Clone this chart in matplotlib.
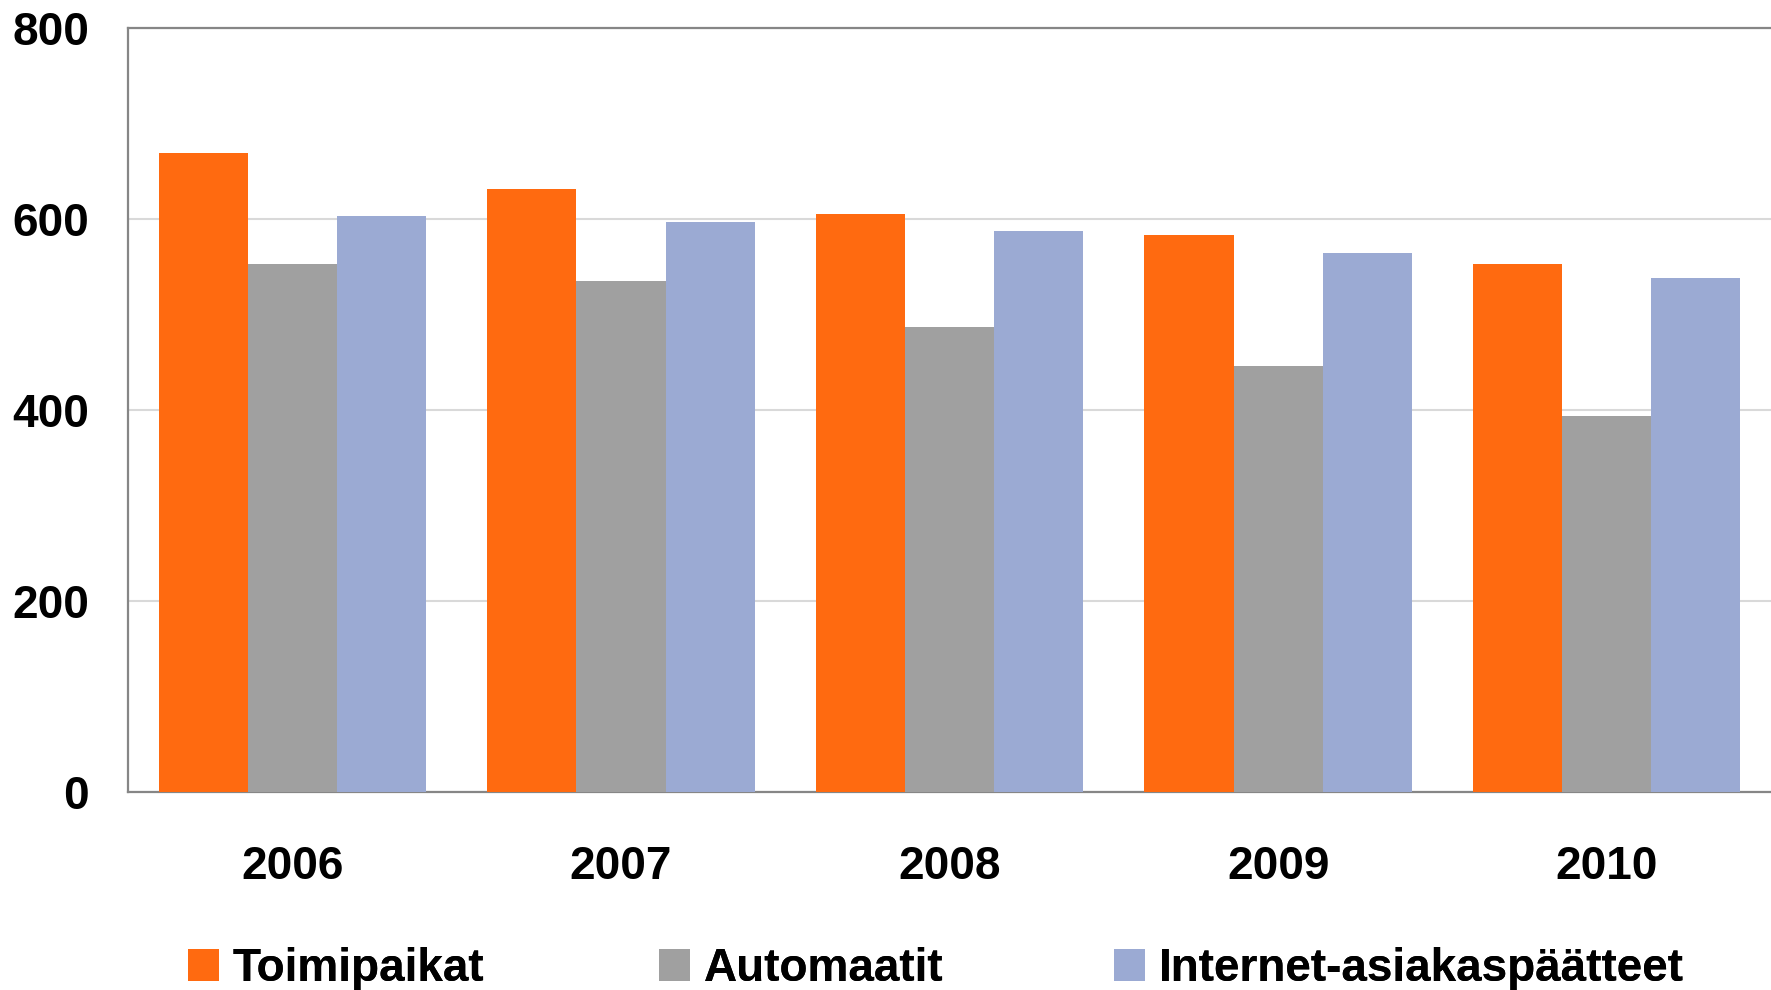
import numpy as np
import matplotlib
matplotlib.use('Agg')
import matplotlib.pyplot as plt
from matplotlib.patches import Patch

# data
years = ['2006', '2007', '2008', '2009', '2010']
toimipaikat = [669, 631, 605, 583, 553]
automaatit = [553, 535, 487, 446, 394]
internet = [603, 597, 587, 564, 538]
series_names = ['Toimipaikat', 'Automaatit', 'Internet-asiakaspäätteet']
colors = ['#FF6A10', '#A0A0A0', '#9BAAD3']
yticks = [0, 200, 400, 600, 800]

plt.rcParams['font.family'] = ['Liberation Sans', 'DejaVu Sans']
fsize = 33

fig = plt.figure(figsize=(17.71, 9.9), dpi=100)
ax = fig.add_axes([0.0723, 0.2, 0.9277, 0.7717])

x = np.arange(len(years))
w = 0.2714
for i, (vals, c) in enumerate(zip([toimipaikat, automaatit, internet], colors)):
    ax.bar(x + (i - 1) * w, vals, width=w, color=c, edgecolor='none', zorder=3)

ax.set_xlim(-0.5, len(years) - 0.5)
ax.set_ylim(0, 800)
ax.set_yticks(yticks)
ax.set_yticklabels([str(t) for t in yticks], fontsize=fsize, fontweight='bold')
ax.set_xticks(x)
ax.set_xticklabels(years, fontsize=fsize, fontweight='bold')
ax.tick_params(axis='y', length=0, pad=28)
ax.tick_params(axis='x', length=0, pad=38)

ax.yaxis.grid(True, color='#D9D9D9', linewidth=1.5, zorder=0)
for s in ['left', 'top', 'bottom']:
    ax.spines[s].set_color('#868686')
    ax.spines[s].set_linewidth(1.6)
ax.spines['right'].set_visible(False)

# legend: one entry each, placed like the reference
leg_x = [188, 659, 1114]
for name, c, lx in zip(series_names, colors, leg_x):
    lg = fig.legend(handles=[Patch(facecolor=c, edgecolor='none')], labels=[name],
                    loc='center left', bbox_to_anchor=(lx / 1771, 1 - 969 / 990),
                    frameon=False, borderpad=0, borderaxespad=0,
                    handlelength=0.68, handleheight=0.68, handletextpad=0.3,
                    prop={'size': fsize, 'weight': 'bold'})
    fig.add_artist(lg)

fig.savefig('out.png', dpi=100)
